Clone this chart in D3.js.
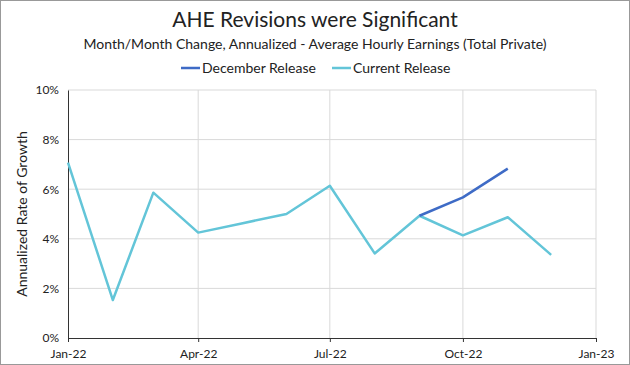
<!DOCTYPE html>
<html><head><meta charset="utf-8">
<script src="https://cdn.jsdelivr.net/npm/d3@7"></script>
<style>body{margin:0;background:#fff}svg{display:block}text{font-family:Lato,"Open Sans",sans-serif;fill:#222}</style>
</head><body><svg id="c" width="630" height="365"></svg>
<script>
const months = ["2022-01","2022-02","2022-03","2022-04","2022-05","2022-06","2022-07","2022-08","2022-09","2022-10","2022-11","2022-12"];
const currentRelease = [7.07,1.53,5.86,4.25,4.62,5.0,6.14,3.41,4.93,4.14,4.87,3.35];
const decMonths = ["2022-09","2022-10","2022-11"];
const decemberRelease = [4.93,5.67,6.83];
const xTicks = ["2022-01","2022-04","2022-07","2022-10","2023-01"];
const yTicks = [0,2,4,6,8,10];

const parse = d3.timeParse("%Y-%m");
const fmt = d3.timeFormat("%b-%y");
const svg = d3.select("#c");
const L=68,R=596,T=90,B=338;
const x = d3.scaleTime().domain([parse("2022-01"),parse("2023-01")]).range([L,R]);
const y = d3.scaleLinear().domain([0,10]).range([B,T]);

svg.append("rect").attr("x",0.5).attr("y",0.5).attr("width",629).attr("height",364).attr("fill","#fff").attr("stroke","#999");

// grid
svg.append("g").selectAll("line").data(yTicks.slice(1)).join("line")
  .attr("x1",L).attr("x2",R).attr("y1",d=>y(d)).attr("y2",d=>y(d)).attr("stroke","#d9d9d9");
svg.append("g").selectAll("line").data(xTicks.slice(1)).join("line")
  .attr("x1",d=>x(parse(d))).attr("x2",d=>x(parse(d))).attr("y1",T).attr("y2",B).attr("stroke","#d9d9d9");

// axes
const xa = svg.append("g").attr("transform",`translate(0,${B})`)
  .call(d3.axisBottom(x).tickValues(xTicks.map(parse)).tickFormat(fmt).tickSize(4).tickSizeOuter(0));
xa.select(".domain").attr("stroke","#333");
xa.selectAll(".tick line").attr("stroke","#333");
xa.selectAll("text").attr("font-size",12).attr("dy","1.1em").style("font-family","Lato");
const ya = svg.append("g").attr("transform",`translate(${L},0)`)
  .call(d3.axisLeft(y).tickValues(yTicks).tickFormat(d=>d+"%").tickSize(0).tickPadding(9));
ya.select(".domain").attr("stroke","#333");
ya.selectAll("text").attr("font-size",12).style("font-family","Lato");

// lines
const line = d3.line().x(d=>x(d[0])).y(d=>y(d[1]));
svg.append("path").datum(months.map((m,i)=>[parse(m),currentRelease[i]]))
  .attr("d",line).attr("fill","none").attr("stroke","#63C5D8").attr("stroke-width",2.5).attr("stroke-linejoin","round");
svg.append("path").datum(decMonths.map((m,i)=>[parse(m),decemberRelease[i]]))
  .attr("d",line).attr("fill","none").attr("stroke","#3E6BC6").attr("stroke-width",2.5).attr("stroke-linejoin","round");

// titles
svg.append("text").attr("x",315).attr("y",27).attr("text-anchor","middle").attr("font-size",21).text("AHE Revisions were Significant");
svg.append("text").attr("x",315).attr("y",49).attr("text-anchor","middle").attr("font-size",14).text("Month/Month Change, Annualized - Average Hourly Earnings (Total Private)");
svg.append("text").attr("transform","translate(27,214) rotate(-90)").attr("text-anchor","middle").attr("font-size",14).text("Annualized Rate of Growth");

// legend
const leg=[["December Release","#3E6BC6",181],["Current Release","#63C5D8",332]];
leg.forEach(([t,c,lx])=>{
  svg.append("line").attr("x1",lx).attr("x2",lx+19).attr("y1",68).attr("y2",68).attr("stroke",c).attr("stroke-width",2.5);
  svg.append("text").attr("x",lx+21).attr("y",73).attr("font-size",14).text(t);
});
</script></body></html>
